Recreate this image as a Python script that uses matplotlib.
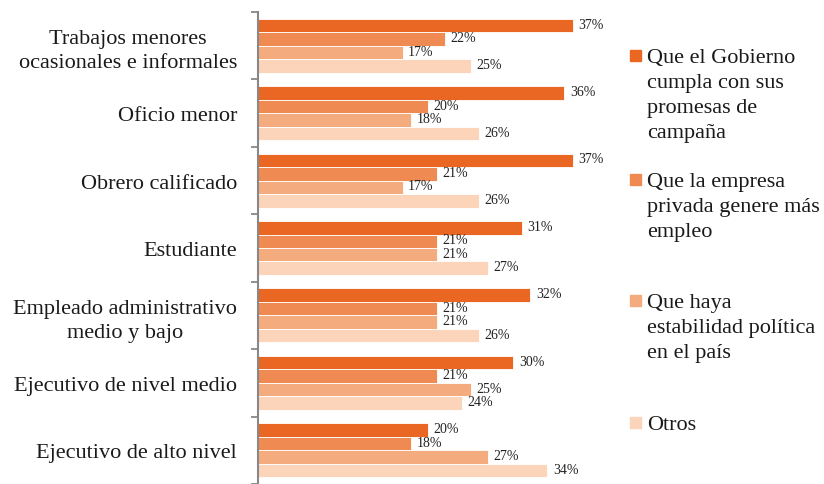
import matplotlib.pyplot as plt
from matplotlib.patches import Rectangle
import numpy as np

plt.rcParams['font.family'] = ['Liberation Serif', 'DejaVu Serif']

categories = [
    "Trabajos menores\nocasionales e informales",
    "Oficio menor",
    "Obrero calificado",
    "Estudiante",
    "Empleado administrativo\nmedio y bajo",
    "Ejecutivo de nivel medio",
    "Ejecutivo de alto nivel",
]
series_names = [
    "Que el Gobierno\ncumpla con sus\npromesas de\ncampaña",
    "Que la empresa\nprivada genere más\nempleo",
    "Que haya\nestabilidad política\nen el país",
    "Otros",
]
gobierno = [37, 36, 37, 31, 32, 30, 20]
empresa = [22, 20, 21, 21, 21, 21, 18]
estabilidad = [17, 18, 17, 21, 21, 25, 27]
otros = [25, 26, 26, 27, 26, 24, 34]
series = [gobierno, empresa, estabilidad, otros]
colors = ["#EA6623", "#EF8A52", "#F4AC7F", "#FBD4B9"]

fig = plt.figure(figsize=(8.24, 4.85), dpi=100)
ax = fig.add_axes([258 / 824, 0.0, 340.4 / 824, 472 / 485])

n = len(categories)
bar_h = 0.2
for g in range(n):
    for s, vals in enumerate(series):
        y = g + 0.1 + bar_h * s + bar_h / 2
        ax.barh(y, vals[g], height=bar_h, color=colors[s],
                edgecolor="white", linewidth=0.6)
        ax.text(vals[g] + 0.65, y - 0.02, f"{vals[g]}%", va="center", ha="left",
                fontsize=10, color="#222222")

ax.set_xlim(0, 40)
ax.set_ylim(n, 0)
ax.set_yticks(np.arange(n) + 0.5)
ax.set_yticklabels(categories, fontsize=16, multialignment="center",
                   linespacing=1.33, color="#1a1a1a")
ax.set_yticks(np.arange(n + 1), minor=True)
ax.tick_params(axis="y", which="major", length=0, pad=15)
ax.tick_params(axis="y", which="minor", length=5, width=1.3, color="#888888")
ax.set_xticks([])
for sp in ["top", "right", "bottom"]:
    ax.spines[sp].set_visible(False)
ax.spines["left"].set_color("#888888")
ax.spines["left"].set_linewidth(1.5)

# legend drawn in figure pixels, one text per line on fixed baselines
W, H = 824, 485
legend_baselines = [63, 187, 308, 430]
line_step = 25
for name, c, yb in zip(series_names, colors, legend_baselines):
    fig.patches.append(Rectangle((630 / W, 1 - (yb - 1) / H), 11 / W, 11 / H,
                                 transform=fig.transFigure, color=c))
    for i, line in enumerate(name.split("\n")):
        fig.text(647 / W, 1 - (yb + i * line_step) / H, line, fontsize=16,
                 va="baseline", ha="left", color="#1a1a1a")

fig.savefig("out.png", dpi=100)
